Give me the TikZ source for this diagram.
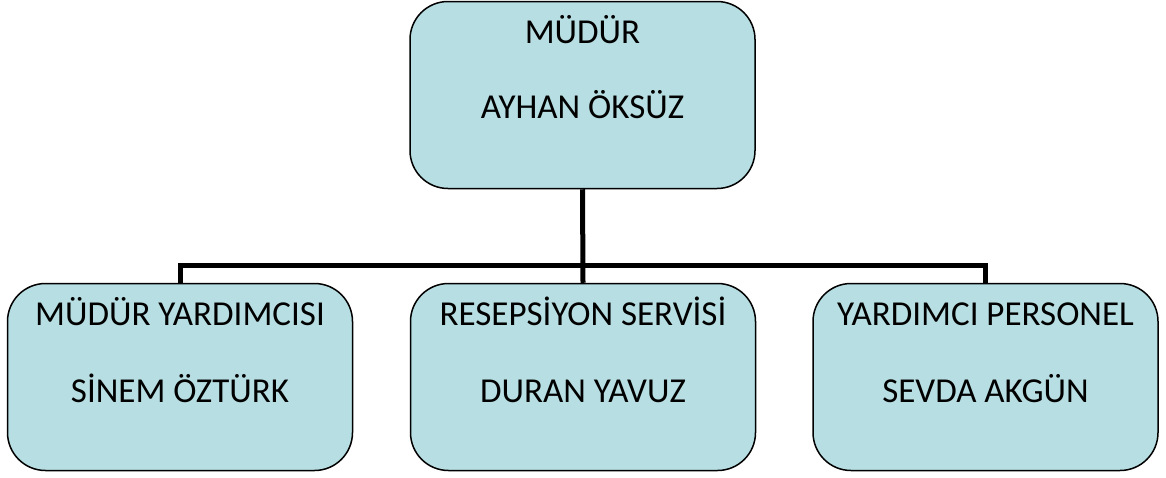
\documentclass[tikz,border=0pt]{standalone}
\usepackage{fontspec}
\setmainfont{Carlito}
\definecolor{kutumavi}{RGB}{183,222,226}

\begin{document}
\begin{tikzpicture}[x=1pt,y=-1pt]
\tikzstyle{kutu}=[draw=black,line width=1.5pt,fill=kutumavi,rounded corners=38pt,
  minimum width=345pt,minimum height=187pt,inner sep=0pt];
\tikzstyle{yazi}=[anchor=base,font=\fontsize{35}{40}\selectfont,inner sep=0pt];
\tikzstyle{baglanti}=[draw=black,line width=5pt];
\useasboundingbox (0,0) rectangle (1166,477);
% kutular
\node[kutu] (mudur) at (582.5, 95) {};
\node[kutu] (yard)  at (180, 377) {};
\node[kutu] (resep) at (583, 377) {};
\node[kutu] (pers)  at (985.5, 377) {};
% yazilar
\node[yazi] (mudurA) at (582.5, 43) {MÜDÜR};
\node[yazi] (mudurB) at (582.5, 118) {AYHAN ÖKSÜZ};
\node[yazi] (yardA) at (180, 325) {MÜDÜR YARDIMCISI};
\node[yazi] (yardB) at (180, 402) {SİNEM ÖZTÜRK};
\node[yazi] (resepA) at (583, 325) {RESEPSİYON SERVİSİ};
\node[yazi] (resepB) at (583, 402) {DURAN YAVUZ};
\node[yazi] (persA) at (985.5, 325) {YARDIMCI PERSONEL};
\node[yazi] (persB) at (985.5, 402) {SEVDA AKGÜN};
% baglantilar
\coordinate (hat) at (583, 265);
\draw[baglanti] (mudur.south) -- (resep.north);
\draw[baglanti] (yard.north) |- (hat) -| (pers.north);
\end{tikzpicture}
\end{document}
